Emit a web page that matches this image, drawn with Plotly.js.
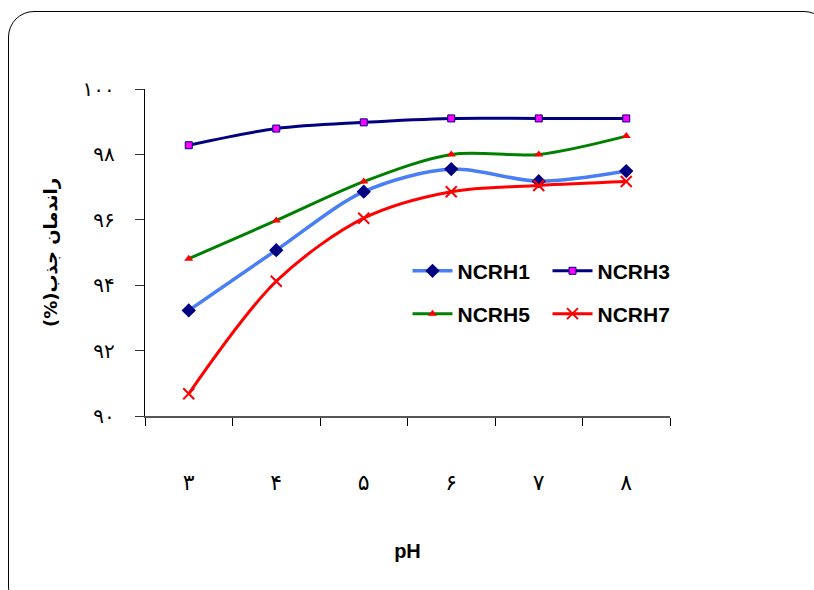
<!DOCTYPE html>
<html>
<head>
<meta charset="utf-8">
<script src="https://cdn.plot.ly/plotly-3.0.1.min.js"></script>
<style>
  html, body { margin: 0; padding: 0; background: #fff; overflow: hidden; width: 814px; height: 590px; }
  #chart { width: 814px; height: 590px; position: absolute; left: 0; top: 0; }
  #frame { position: absolute; left: 8px; top: 11px; width: 820px; height: 600px;
           border: 1.5px solid #000; border-radius: 26px; pointer-events: none; }
</style>
</head>
<body>
<div id="chart"></div>
<div id="frame"></div>
<script>
// Data
const categories = ['۳', '۴', '۵', '۶', '۷', '۸'];   // pH 3..8
const ncrh1 = [93.23, 95.07, 96.86, 97.55, 97.18, 97.49];
const ncrh3 = [98.28, 98.79, 98.98, 99.10, 99.10, 99.10];
const ncrh5 = [94.81, 95.98, 97.17, 98.00, 98.00, 98.56];
const ncrh7 = [90.68, 94.12, 96.05, 96.86, 97.05, 97.17];
const yTickVals = [90, 92, 94, 96, 98, 100];
const yTickText = ['۹۰', '۹۲', '۹۴', '۹۶', '۹۸', '۱۰۰'];
const yTitle = '\u200Fراندمان جذب(%)\u200F';

const traces = [
  { x: categories, y: ncrh1, name: 'NCRH1', type: 'scatter', mode: 'lines+markers', legend: 'legend',
    line: { color: '#4A7EF5', width: 3.5, shape: 'spline', smoothing: 0.9 },
    marker: { symbol: 'diamond', size: 11, color: '#000080' } },
  { x: categories, y: ncrh3, name: 'NCRH3', type: 'scatter', mode: 'lines+markers', legend: 'legend',
    line: { color: '#000080', width: 3, shape: 'spline', smoothing: 0.9 },
    marker: { symbol: 'square', size: 7, color: '#FF00FF', line: { color: '#000080', width: 1 } } },
  { x: categories, y: ncrh5, name: 'NCRH5', type: 'scatter', mode: 'lines+markers', legend: 'legend2',
    line: { color: '#008000', width: 3, shape: 'spline', smoothing: 0.9 },
    marker: { symbol: 'triangle-up', size: 8, color: '#FF0000' } },
  { x: categories, y: ncrh7, name: 'NCRH7', type: 'scatter', mode: 'lines+markers', legend: 'legend2',
    line: { color: '#FF0000', width: 3, shape: 'spline', smoothing: 0.9 },
    marker: { symbol: 'x-thin', size: 11, color: '#FF0000', line: { color: '#FF0000', width: 2 } } }
];

const legendFont = { family: 'Liberation Sans, Arial, sans-serif', size: 21, color: '#000', weight: 'bold' };

const layout = {
  width: 814, height: 590,
  margin: { l: 145, r: 144, t: 89, b: 174 },
  paper_bgcolor: '#fff', plot_bgcolor: 'rgba(0,0,0,0)',
  showlegend: true,
  legend: { orientation: 'h', x: 0.5, xanchor: 'left', y: 0.443, yanchor: 'middle',
            font: legendFont, bgcolor: 'rgba(0,0,0,0)', entrywidth: 85, itemwidth: 40,
            traceorder: 'normal' },
  legend2: { orientation: 'h', x: 0.5, xanchor: 'left', y: 0.312, yanchor: 'middle',
             font: legendFont, bgcolor: 'rgba(0,0,0,0)', entrywidth: 85, itemwidth: 40,
             traceorder: 'normal' },
  xaxis: {
    type: 'category',
    range: [-0.5, 5.5],
    tickson: 'boundaries',
    ticks: 'outside', ticklen: 8, tickcolor: '#000', tickwidth: 1,
    showline: true, linecolor: '#555', linewidth: 1.5,
    showgrid: false, zeroline: false,
    ticklabelstandoff: 46,
    tickfont: { family: 'DejaVu Sans, sans-serif', size: 22, color: '#000' },
    title: { text: 'pH', font: { family: 'Liberation Sans, Arial, sans-serif', size: 20, color: '#000', weight: 'bold' }, standoff: 50 }
  },
  yaxis: {
    range: [90, 100],
    tickvals: yTickVals, ticktext: yTickText,
    ticks: 'outside', ticklen: 9, tickcolor: '#333', tickwidth: 1,
    showline: true, linecolor: '#000', linewidth: 1.2,
    showgrid: false, zeroline: false,
    ticklabelstandoff: 16,
    tickfont: { family: 'DejaVu Sans, sans-serif', size: 20, color: '#000' },
    title: { text: yTitle, font: { family: 'DejaVu Sans, sans-serif', size: 18, color: '#000', weight: 'bold' }, standoff: 20 }
  }
};

Plotly.newPlot('chart', traces, layout, { displayModeBar: false, staticPlot: true });
</script>
</body>
</html>
